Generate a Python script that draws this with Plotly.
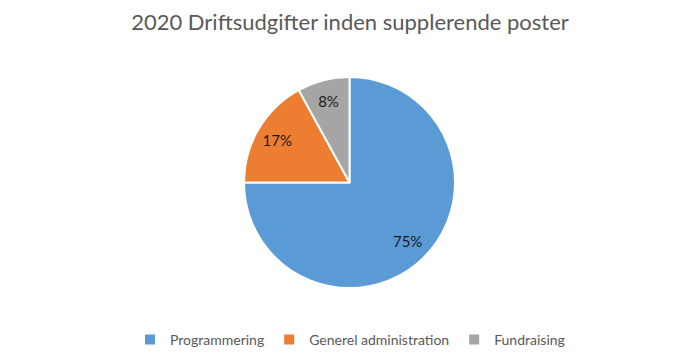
import plotly.graph_objects as go

categories = ["Programmering", "Generel administration", "Fundraising"]
values = [75, 17, 8]
colors = ["#5B9BD5", "#ED7D31", "#A5A5A5"]
title_text = "2020 Driftsudgifter inden supplerende poster"

W, H = 700, 362
cx, cy, r = 349.5, 182.5, 105.5
FONT = "Lato, Open Sans, sans-serif"


def dom(rad):
    return dict(x=[(cx - rad) / W, (cx + rad) / W], y=[1 - (cy + rad) / H, 1 - (cy - rad) / H])


label_font = dict(family=FONT, size=15, color="#1a1a1a")

fig = go.Figure()
# main pie (shows the small slice label itself)
fig.add_trace(go.Pie(
    labels=categories,
    values=values,
    sort=False,
    direction="clockwise",
    rotation=0,
    marker=dict(colors=colors, line=dict(color="white", width=2)),
    texttemplate=["", "", "%{percent:.0%}"],
    textposition="inside",
    insidetextorientation="horizontal",
    textfont=label_font,
    domain=dom(r),
    hoverinfo="label+percent",
))
# transparent label-only overlays so the labels sit further out, like the reference
for scale, idx in [(1.56, 0), (1.2, 1)]:
    tmpl = ["", "", ""]
    tmpl[idx] = "%{percent:.0%}"
    fig.add_trace(go.Pie(
        labels=categories,
        values=values,
        sort=False,
        direction="clockwise",
        rotation=0,
        marker=dict(colors=["rgba(0,0,0,0)"] * 3, line=dict(width=0)),
        texttemplate=tmpl,
        textposition="inside",
        insidetextorientation="horizontal",
        textfont=label_font,
        domain=dom(r * scale),
        hoverinfo="skip",
        showlegend=False,
    ))

fig.update_layout(
    width=W, height=H,
    margin=dict(l=0, r=0, t=0, b=0),
    paper_bgcolor="white",
    plot_bgcolor="white",
    title=dict(text=title_text, x=0.5, xanchor="center", y=1 - 22 / H, yanchor="middle",
               font=dict(family=FONT, size=22, color="#595959")),
    legend=dict(orientation="h", x=0.5, xanchor="center", y=1 - 340 / H, yanchor="middle",
                font=dict(family=FONT, size=14, color="#595959"),
                itemwidth=30, traceorder="normal"),
    showlegend=True,
)

fig.write_html("out.html", config={"displayModeBar": False},
               post_script="document.body.style.margin='0';")
